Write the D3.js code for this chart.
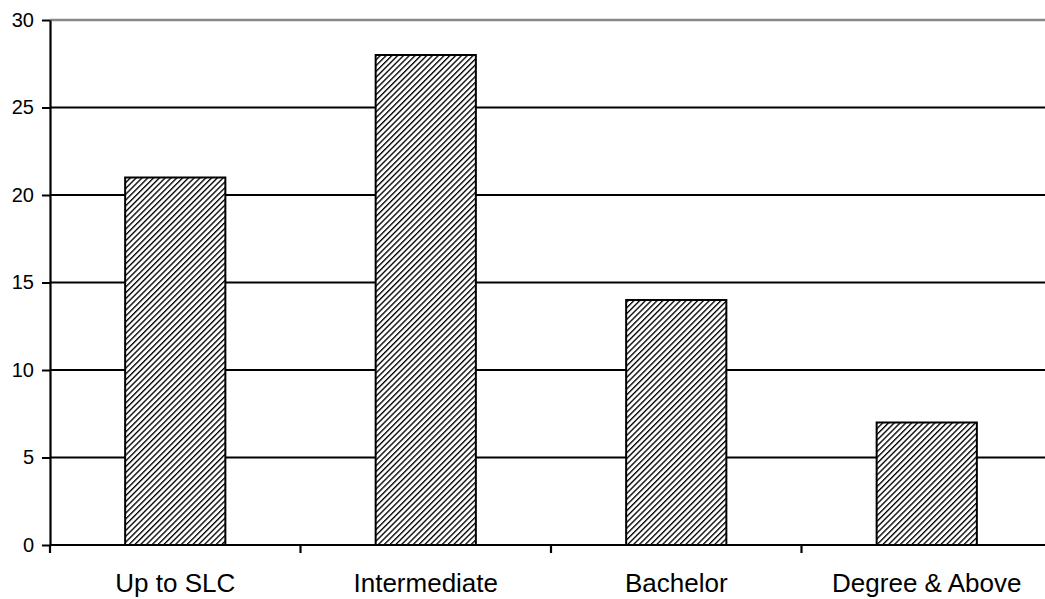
<!DOCTYPE html>
<html>
<head>
<meta charset="utf-8">
<script src="https://cdn.jsdelivr.net/npm/d3@7"></script>
<style>
  html, body { margin: 0; padding: 0; background: #fff; }
  svg { display: block; }
  text { font-family: "Liberation Sans", Arial, sans-serif; }
</style>
</head>
<body>
<script>
// Education level counts
const categories = ["Up to SLC", "Intermediate", "Bachelor", "Degree & Above"];
const values = [21, 28, 14, 7];
const yTicks = [0, 5, 10, 15, 20, 25, 30];

const width = 1045, height = 599;
const margin = { top: 20, right: -7, bottom: 54, left: 50 };

const svg = d3.select("body").append("svg")
  .attr("width", width)
  .attr("height", height);

// Diagonal hatch fill for the bars
const defs = svg.append("defs");
const pat = defs.append("pattern")
  .attr("id", "hatch")
  .attr("patternUnits", "userSpaceOnUse")
  .attr("width", 4.1)
  .attr("height", 4.1)
  .attr("patternTransform", "rotate(45)");
pat.append("rect").attr("width", 4.1).attr("height", 4.1).attr("fill", "#fff");
pat.append("line")
  .attr("x1", 0).attr("y1", 0).attr("x2", 0).attr("y2", 4.1)
  .attr("stroke", "#000").attr("stroke-width", 2.7);

const x = d3.scaleBand()
  .domain(categories)
  .range([margin.left, width - margin.right])
  .paddingInner(0.6)
  .paddingOuter(0.3);

const y = d3.scaleLinear()
  .domain([0, 30])
  .range([height - margin.bottom, margin.top]);

// Horizontal gridlines (top one drawn grey)
svg.append("g").selectAll("line")
  .data(yTicks.filter(d => d > 0))
  .join("line")
  .attr("x1", margin.left)
  .attr("x2", width)
  .attr("y1", d => y(d))
  .attr("y2", d => y(d))
  .attr("stroke", d => d === 30 ? "#888" : "#000")
  .attr("stroke-width", d => d === 30 ? 2.5 : 2);

// Bars
svg.append("g").selectAll("rect")
  .data(values)
  .join("rect")
  .attr("x", (d, i) => x(categories[i]))
  .attr("y", d => y(d))
  .attr("width", x.bandwidth())
  .attr("height", d => y(0) - y(d))
  .attr("fill", "url(#hatch)")
  .attr("stroke", "#000")
  .attr("stroke-width", 2);

// Y axis
const yAxis = svg.append("g")
  .attr("transform", `translate(${margin.left},0)`)
  .call(d3.axisLeft(y).tickValues(yTicks).tickSize(8).tickPadding(8).tickSizeOuter(0));
yAxis.select(".domain").attr("stroke", "#000").attr("stroke-width", 2.2);
yAxis.selectAll(".tick line").attr("stroke", "#000").attr("stroke-width", 2);
yAxis.selectAll(".tick text").attr("font-size", 20).attr("fill", "#000")
  .attr("font-family", "'Liberation Sans', Arial, sans-serif");

// X axis with ticks at category boundaries
const step = x.step();
const boundaries = d3.range(categories.length + 1).map(i => margin.left + i * step);
const xAxisG = svg.append("g");
xAxisG.append("line")
  .attr("x1", margin.left).attr("x2", width)
  .attr("y1", y(0)).attr("y2", y(0))
  .attr("stroke", "#000").attr("stroke-width", 2.2);
xAxisG.selectAll("line.tk")
  .data(boundaries)
  .join("line")
  .attr("class", "tk")
  .attr("x1", d => d).attr("x2", d => d)
  .attr("y1", y(0)).attr("y2", y(0) + 8)
  .attr("stroke", "#000").attr("stroke-width", 2.2);
xAxisG.selectAll("text")
  .data(categories)
  .join("text")
  .attr("x", d => x(d) + x.bandwidth() / 2)
  .attr("y", y(0) + 47)
  .attr("text-anchor", "middle")
  .attr("font-size", 26)
  .attr("fill", "#000")
  .text(d => d);
</script>
</body>
</html>
